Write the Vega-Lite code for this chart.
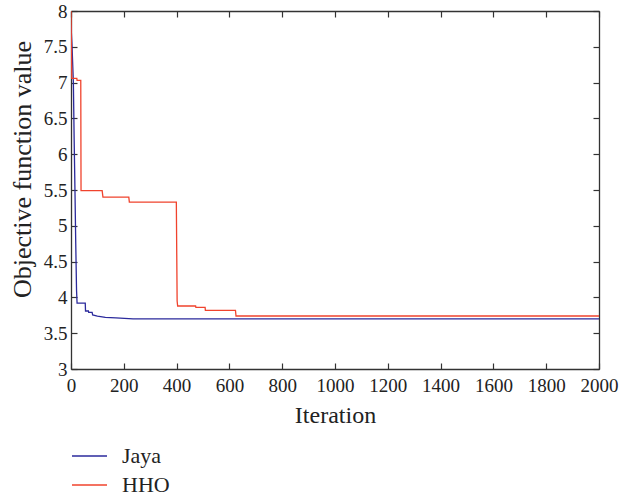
{
  "$schema": "https://vega.github.io/schema/vega-lite/v6.json",
  "width": 528,
  "height": 358,
  "autosize": {"type": "none"},
  "padding": {"left": 71, "top": 11, "right": 22, "bottom": 129},
  "background": "white",
  "config": {
    "font": "Liberation Serif",
    "view": {"stroke": null},
    "axis": {"domainColor": "#333", "tickColor": "#333", "labelColor": "#222", "titleColor": "#222", "grid": false, "titleFontWeight": "normal", "domainWidth": 1.3, "tickWidth": 1.2}
  },
  "data": {"values": [
    {"alg": "Jaya", "i": 1, "iter": 0, "value": 7.8},
    {"alg": "Jaya", "i": 2, "iter": 4, "value": 7.5},
    {"alg": "Jaya", "i": 3, "iter": 9, "value": 7.0},
    {"alg": "Jaya", "i": 4, "iter": 12, "value": 6.2},
    {"alg": "Jaya", "i": 5, "iter": 15, "value": 5.5},
    {"alg": "Jaya", "i": 6, "iter": 18, "value": 4.75},
    {"alg": "Jaya", "i": 7, "iter": 21, "value": 4.1},
    {"alg": "Jaya", "i": 8, "iter": 23, "value": 3.92},
    {"alg": "Jaya", "i": 9, "iter": 54, "value": 3.92},
    {"alg": "Jaya", "i": 10, "iter": 55, "value": 3.81},
    {"alg": "Jaya", "i": 11, "iter": 66, "value": 3.81},
    {"alg": "Jaya", "i": 12, "iter": 67, "value": 3.79},
    {"alg": "Jaya", "i": 13, "iter": 80, "value": 3.79},
    {"alg": "Jaya", "i": 14, "iter": 82, "value": 3.755},
    {"alg": "Jaya", "i": 15, "iter": 100, "value": 3.74},
    {"alg": "Jaya", "i": 16, "iter": 130, "value": 3.72},
    {"alg": "Jaya", "i": 17, "iter": 170, "value": 3.715},
    {"alg": "Jaya", "i": 18, "iter": 235, "value": 3.70},
    {"alg": "Jaya", "i": 19, "iter": 2000, "value": 3.70},
    {"alg": "HHO", "i": 1, "iter": 0, "value": 8.0},
    {"alg": "HHO", "i": 2, "iter": 3, "value": 7.06},
    {"alg": "HHO", "i": 3, "iter": 22, "value": 7.06},
    {"alg": "HHO", "i": 4, "iter": 23, "value": 7.03},
    {"alg": "HHO", "i": 5, "iter": 37, "value": 7.03},
    {"alg": "HHO", "i": 6, "iter": 38, "value": 5.49},
    {"alg": "HHO", "i": 7, "iter": 118, "value": 5.49},
    {"alg": "HHO", "i": 8, "iter": 121, "value": 5.40},
    {"alg": "HHO", "i": 9, "iter": 219, "value": 5.40},
    {"alg": "HHO", "i": 10, "iter": 221, "value": 5.33},
    {"alg": "HHO", "i": 11, "iter": 399, "value": 5.33},
    {"alg": "HHO", "i": 12, "iter": 402, "value": 3.95},
    {"alg": "HHO", "i": 13, "iter": 404, "value": 3.88},
    {"alg": "HHO", "i": 14, "iter": 472, "value": 3.88},
    {"alg": "HHO", "i": 15, "iter": 473, "value": 3.86},
    {"alg": "HHO", "i": 16, "iter": 508, "value": 3.86},
    {"alg": "HHO", "i": 17, "iter": 509, "value": 3.82},
    {"alg": "HHO", "i": 18, "iter": 623, "value": 3.82},
    {"alg": "HHO", "i": 19, "iter": 625, "value": 3.74},
    {"alg": "HHO", "i": 20, "iter": 2000, "value": 3.74}
  ]},
  "layer": [
    {
      "mark": {"type": "line", "strokeWidth": 1.3, "clip": true},
      "encoding": {
        "x": {"field": "iter", "type": "quantitative", "scale": {"domain": [0, 2000], "nice": false},
              "axis": {"orient": "bottom", "values": [0,200,400,600,800,1000,1200,1400,1600,1800,2000], "format": "d", "title": "Iteration", "tickSize": -6, "labelPadding": 13, "titlePadding": 8, "labelFlush": false, "labelFont": "Liberation Serif", "labelFontSize": 19, "titleFont": "Liberation Serif", "titleFontSize": 24}},
        "y": {"field": "value", "type": "quantitative", "scale": {"domain": [3, 8], "nice": false, "zero": false},
              "axis": {"orient": "left", "values": [3,3.5,4,4.5,5,5.5,6,6.5,7,7.5,8], "format": "~g", "title": "Objective function value", "tickSize": -6, "labelPadding": 10, "titlePadding": 8, "titleY": 158, "labelFlush": false, "labelFont": "Liberation Serif", "labelFontSize": 19, "titleFont": "Liberation Serif", "titleFontSize": 26}},
        "color": {"field": "alg", "type": "nominal",
                  "scale": {"domain": ["Jaya", "HHO"], "range": ["#2b2a9c", "#f0432d"]},
                  "legend": {"title": null, "orient": "none", "legendX": 7.5, "legendY": 434, "direction": "vertical",
                             "symbolType": "M-1.75,0H1.75", "symbolSize": 400, "symbolStrokeWidth": 1.3,
                             "labelFont": "Liberation Serif", "labelFontSize": 22, "labelColor": "#222", "labelOffset": 21.5, "rowPadding": 7, "padding": 0}},
        "order": {"field": "i", "type": "quantitative"}
      }
    },
    {
      "mark": {"type": "line", "opacity": 0},
      "encoding": {
        "x": {"field": "iter", "type": "quantitative", "scale": {"domain": [0, 2000], "nice": false},
              "axis": {"orient": "top", "values": [0,200,400,600,800,1000,1200,1400,1600,1800,2000], "labels": false, "title": null, "tickSize": -6}},
        "y": {"field": "value", "type": "quantitative", "scale": {"domain": [3, 8], "nice": false, "zero": false},
              "axis": {"orient": "right", "values": [3,3.5,4,4.5,5,5.5,6,6.5,7,7.5,8], "labels": false, "title": null, "tickSize": -6}},
        "detail": {"field": "alg", "type": "nominal"},
        "order": {"field": "i", "type": "quantitative"}
      }
    }
  ],
  "resolve": {"axis": {"x": "independent", "y": "independent"}}
}
